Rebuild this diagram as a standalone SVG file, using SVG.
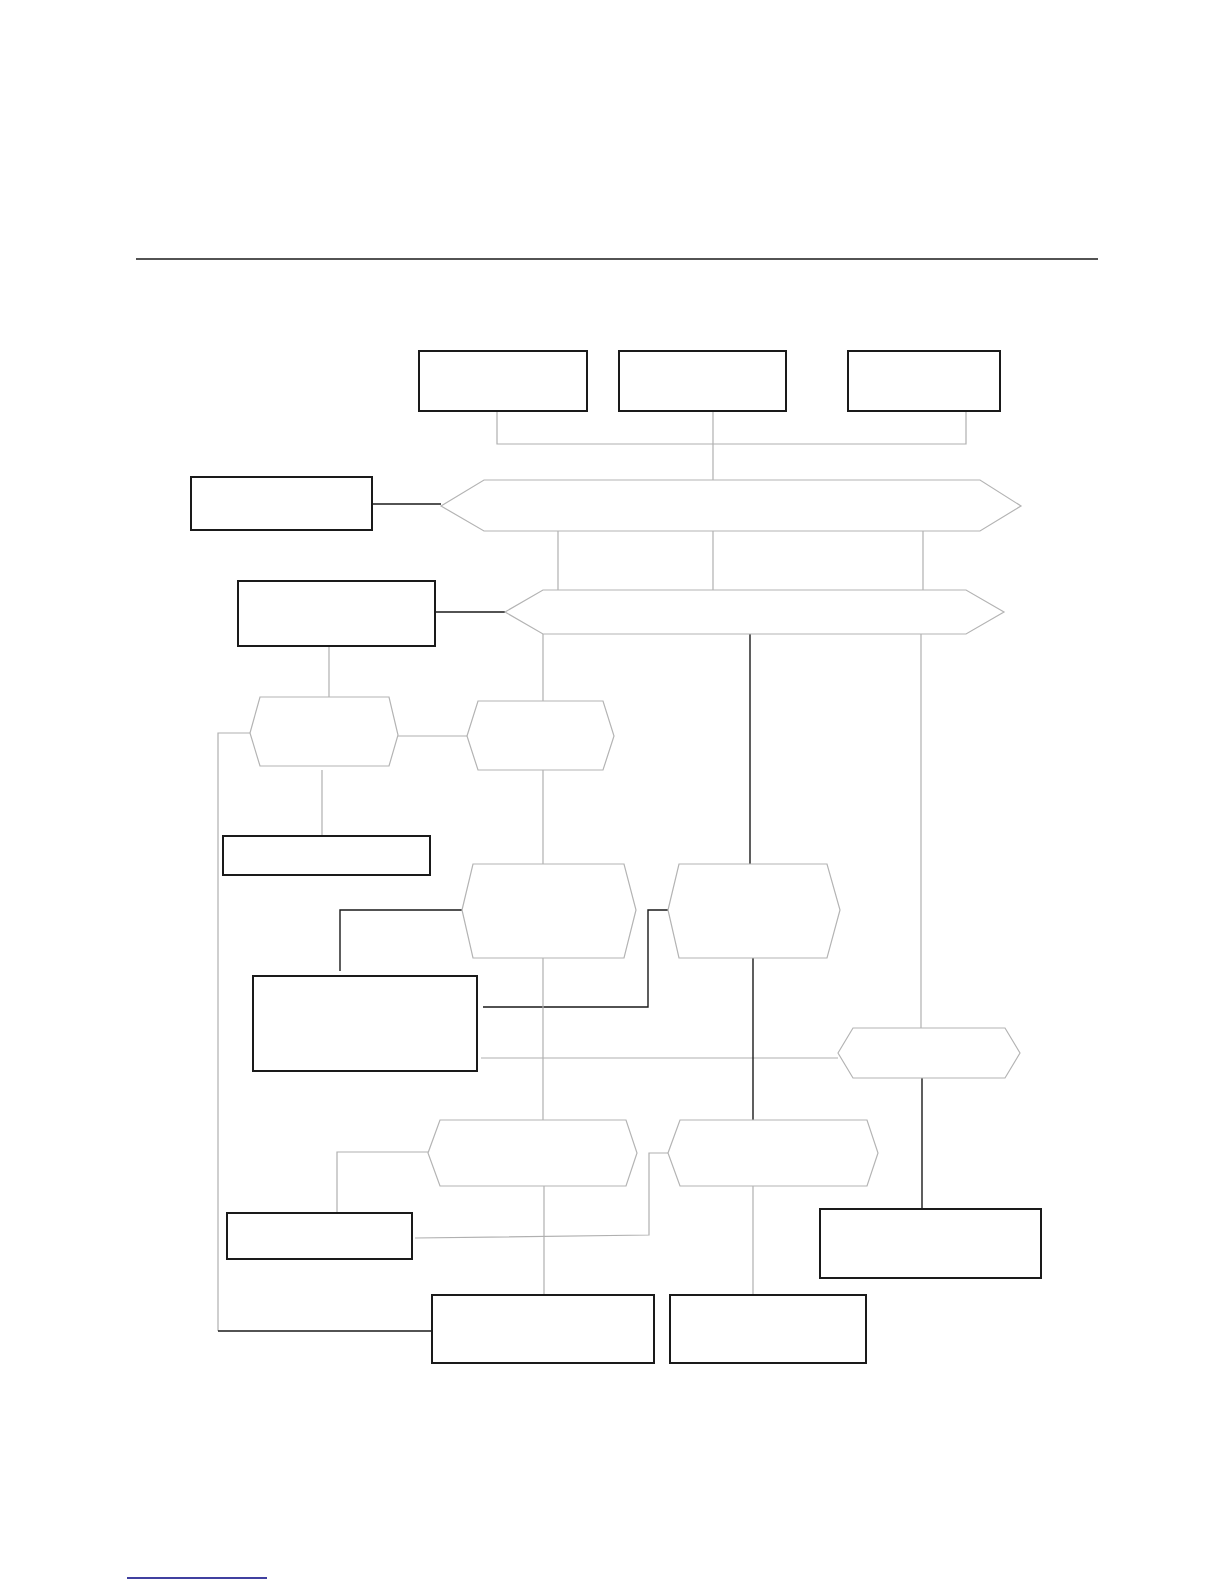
<svg xmlns="http://www.w3.org/2000/svg" width="1224" height="1584" viewBox="0 0 1224 1584">
<style>
.box{fill:#fff;stroke:#1a1a1a;stroke-width:2}
.hex{fill:#fff;stroke:#b4b4b4;stroke-width:1.2}
.g{fill:none;stroke:#b0b0b0;stroke-width:1.2}
.k{fill:none;stroke:#1a1a1a;stroke-width:1.4}
</style>
<rect width="1224" height="1584" fill="#fff"/>
<line x1="136" y1="259" x2="1098" y2="259" stroke="#1a1a1a" stroke-width="1.4"/>
<g id="connectors">
<polyline class="g" points="497,411 497,444 966,444 966,411"/>
<polyline class="g" points="713,411 713,480"/>
<polyline class="k" points="372,504 441,504"/>
<polyline class="g" points="558,531 558,590"/>
<polyline class="g" points="713,531 713,590"/>
<polyline class="g" points="923,531 923,590"/>
<polyline class="k" points="435,612 505,612"/>
<polyline class="g" points="543,634 543,701"/>
<polyline class="k" points="750,634 750,864"/>
<polyline class="g" points="921,634 921,1028"/>
<polyline class="g" points="329,646 329,697"/>
<polyline class="g" points="398,736 467,736"/>
<polyline class="g" points="250,733 218,733 218,1331"/>
<polyline class="k" points="218,1331 432,1331"/>
<polyline class="g" points="322,770 322,836"/>
<polyline class="g" points="543,770 543,864"/>
<polyline class="k" points="462,910 340,910 340,971"/>
<polyline class="k" points="483,1007 648,1007 648,910 668,910"/>
<polyline class="g" points="481,1058 838,1058"/>
<polyline class="g" points="543,958 543,1120"/>
<polyline class="k" points="753,958 753,1120"/>
<polyline class="k" points="922,1078 922,1209"/>
<polyline class="g" points="428,1152 337,1152 337,1213"/>
<polyline class="g" points="415,1238 649,1235 649,1153 668,1153"/>
<polyline class="g" points="544,1186 544,1295"/>
<polyline class="g" points="753,1186 753,1295"/>
</g>
<g id="boxA"><rect class="box" x="419" y="351" width="168" height="60"/></g>
<g id="boxB"><rect class="box" x="619" y="351" width="167" height="60"/></g>
<g id="boxC"><rect class="box" x="848" y="351" width="152" height="60"/></g>
<g id="hex1"><polygon class="hex" points="441,506 484,480 980,480 1021,506 980,531 484,531"/></g>
<g id="boxL1"><rect class="box" x="191" y="477" width="181" height="53"/></g>
<g id="hex2"><polygon class="hex" points="505,612 543,590 966,590 1004,612 966,634 543,634"/></g>
<g id="boxL2"><rect class="box" x="238" y="581" width="197" height="65"/></g>
<g id="hexL"><polygon class="hex" points="250,733 260,697 389,697 398,735 389,766 260,766"/></g>
<g id="boxL3"><rect class="box" x="223" y="836" width="207" height="39"/></g>
<g id="hex3"><polygon class="hex" points="467,736 478,701 603,701 614,736 603,770 478,770"/></g>
<g id="hex4"><polygon class="hex" points="462,910 473,864 624,864 636,910 624,958 473,958"/></g>
<g id="hex5"><polygon class="hex" points="668,910 679,864 827,864 840,910 827,958 679,958"/></g>
<g id="boxM"><rect class="box" x="253" y="976" width="224" height="95"/></g>
<g id="hex7"><polygon class="hex" points="838,1053 853,1028 1005,1028 1020,1053 1005,1078 853,1078"/></g>
<g id="boxR"><rect class="box" x="820" y="1209" width="221" height="69"/></g>
<g id="hex8"><polygon class="hex" points="428,1153 440,1120 626,1120 637,1153 626,1186 440,1186"/></g>
<g id="hex9"><polygon class="hex" points="668,1153 680,1120 867,1120 878,1153 867,1186 680,1186"/></g>
<g id="boxLB"><rect class="box" x="227" y="1213" width="185" height="46"/></g>
<g id="boxX"><rect class="box" x="432" y="1295" width="222" height="68"/></g>
<g id="boxY"><rect class="box" x="670" y="1295" width="196" height="68"/></g>
<line x1="127" y1="1578" x2="267" y2="1578" stroke="#000080" stroke-width="1.5"/>
</svg>
